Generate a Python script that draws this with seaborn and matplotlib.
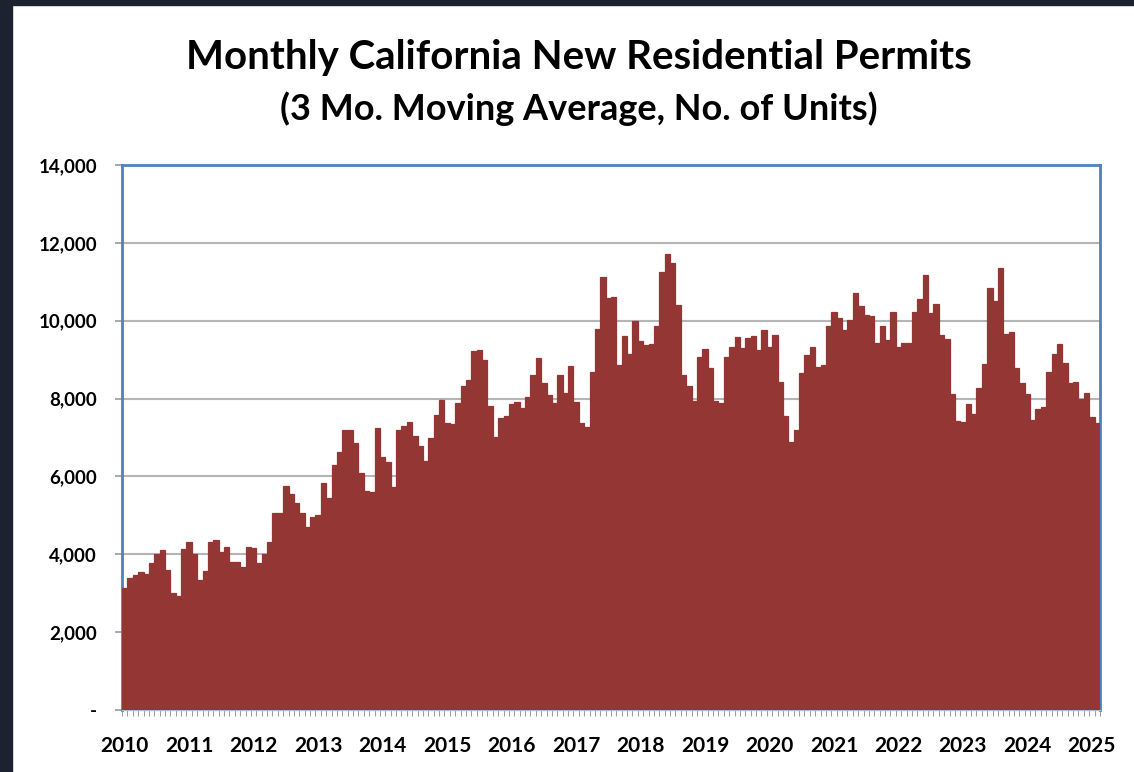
# Monthly California new residential permits (3 mo. moving average)

import numpy as np
import pandas as pd
import matplotlib
matplotlib.use("Agg")
import matplotlib.pyplot as plt
from matplotlib.patches import Rectangle
import seaborn as sns

# Data (Jan 2010 - Feb 2025)
years = list(range(2010, 2026))
permits = [
    # 2010
    3130, 3380, 3470, 3550, 3490, 3770, 4020, 4110, 3600, 3000, 2930, 4130,
    # 2011
    4310, 4020, 3340, 3580, 4310, 4370, 4070, 4190, 3810, 3790, 3680, 4195,
    # 2012
    4150, 3770, 4000, 4320, 5070, 5050, 5750, 5540, 5320, 5070, 4710, 4950,
    # 2013
    5010, 5820, 5450, 6290, 6620, 7180, 7180, 6850, 6080, 5630, 5590, 7235,
    # 2014
    6510, 6380, 5720, 7180, 7300, 7410, 7040, 6780, 6400, 6980, 7580, 7960,
    # 2015
    7380, 7340, 7880, 8310, 8480, 9220, 9250, 8990, 7800, 7000, 7510, 7560,
    # 2016
    7860, 7900, 7750, 8050, 8610, 9040, 8410, 8090, 7880, 8610, 8140, 8840,
    # 2017
    7900, 7370, 7280, 8670, 9780, 11130, 10580, 10600, 8860, 9610, 9150, 10000,
    # 2018
    9480, 9380, 9400, 9870, 11250, 11720, 11490, 10400, 8610, 8330, 7950, 9060,
    # 2019
    9270, 8780, 7950, 7880, 9080, 9320, 9590, 9290, 9550, 9610, 9250, 9750,
    # 2020
    9320, 9630, 8430, 7560, 6890, 7180, 8650, 9120, 9320, 8820, 8860, 9870,
    # 2021
    10230, 10060, 9760, 10020, 10700, 10390, 10150, 10120, 9440, 9870, 9500, 10230,
    # 2022
    9320, 9440, 9420, 10230, 10560, 11180, 10210, 10430, 9630, 9530, 8110, 7420,
    # 2023
    7410, 7860, 7600, 8280, 8880, 10830, 10510, 11360, 9660, 9720, 8780, 8410,
    # 2024
    8120, 7450, 7730, 7790, 8690, 9140, 9400, 8910, 8410, 8430, 7980, 8150,
    # 2025
    7520, 7380,
]
y_ticks = [0, 2000, 4000, 6000, 8000, 10000, 12000, 14000]

df = pd.DataFrame({"month": np.arange(len(permits)), "permits": permits})

sns.set_theme(style="white")
plt.rcParams["font.family"] = ["Lato", "DejaVu Sans"]
plt.rcParams["text.color"] = "black"
plt.rcParams["xtick.labelcolor"] = "black"
plt.rcParams["ytick.labelcolor"] = "black"

fig = plt.figure(figsize=(11.34, 7.72), dpi=100)
fig.patch.set_facecolor("white")
ax = fig.add_axes([0.1076, 0.0803, 0.8624, 0.706])

sns.barplot(data=df, x="month", y="permits", color="#943634", width=1.0,
            saturation=1, edgecolor="#943634", linewidth=0.9, ax=ax, zorder=3)

ax.set_xlim(-0.5, len(permits) - 0.5)
ax.set_ylim(0, 14000)
ax.set_yticks(y_ticks)
ax.set_yticklabels(["-" if v == 0 else f"{v:,}" for v in y_ticks],
                   fontsize=13.5, fontweight="bold", color="black")
ax.yaxis.grid(True, color="#B5B5B5", linewidth=1.5, zorder=0)
ax.set_axisbelow(True)

ax.set_xticks([12 * i for i in range(len(years))])
ax.set_xticklabels([str(y) for y in years], fontsize=15, fontweight="bold",
                   color="black")
ax.set_xticks(np.arange(-0.5, len(permits), 1), minor=True)
ax.tick_params(axis="x", which="major", length=0, pad=19)
ax.tick_params(axis="x", which="minor", length=4, width=0.7, color="#9A9A9A",
               direction="out", bottom=True)
ax.tick_params(axis="y", length=5, width=1.2, color="#9A9A9A", left=True, pad=13)
ax.set_xlabel("")
ax.set_ylabel("")

for side in ["left", "top", "right"]:
    ax.spines[side].set_color("#4F81BD")
    ax.spines[side].set_linewidth(2)
ax.spines["bottom"].set_color("#A9BCD6")
ax.spines["bottom"].set_linewidth(1)

fig.text(0.5105, 1 - 57 / 772, "Monthly California New Residential Permits",
         ha="center", va="center", fontsize=29, fontweight="bold", color="black")
fig.text(0.5105, 1 - 109 / 772, "(3 Mo. Moving Average, No. of Units)",
         ha="center", va="center", fontsize=26, fontweight="bold", color="black")

# dark screenshot edges
fig.patches.append(Rectangle((0, 0), 12 / 1134, 1, transform=fig.transFigure,
                             color="#1d2230", zorder=0))
fig.patches.append(Rectangle((0, 1 - 5 / 772), 1, 5 / 772, transform=fig.transFigure,
                             color="#1d2230", zorder=0))

fig.savefig("out.png", dpi=100)
